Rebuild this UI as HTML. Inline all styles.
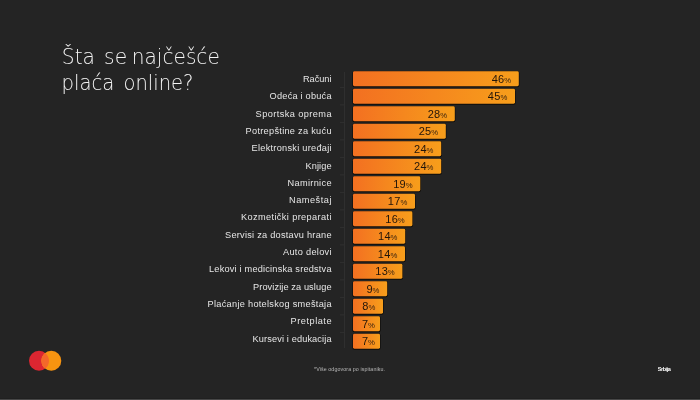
<!DOCTYPE html>
<html lang="sr"><head><meta charset="utf-8"><title>Šta se najčešće plaća online?</title>
<style>
html,body{margin:0;padding:0;background:#242424}
body{width:700px;height:400px;position:relative;overflow:hidden}
svg{position:absolute;left:0;top:0;display:block}
text{font-family:"Liberation Sans",sans-serif}
.title{font-family:"DejaVu Sans Light","DejaVu Sans","Liberation Sans",sans-serif;font-weight:200;font-size:20.6px;fill:#f4f4f4}
.lbl{font-size:9.2px;fill:#e6e6e6}
.num{font-size:11px;fill:#22150a;text-anchor:end;letter-spacing:.35px}
.pc{font-size:7.1px;fill:#3a2410}
.ax{fill:#313131}
.sh{fill:#0a0806;opacity:.85}
.foot{font-size:5.3px;fill:#b8b8b8}
.country{font-size:5.6px;fill:#ffffff;font-weight:bold}
</style></head><body>
<svg width="700" height="400" viewBox="0 0 700 400">
<defs><linearGradient id="g" x1="0" y1="0" x2="1" y2="0"><stop offset="0" stop-color="#f37021"/><stop offset="1" stop-color="#f79e1b"/></linearGradient></defs>
<rect width="700" height="400" fill="#242424"/>
<text class="title"><tspan x="61.80" y="63.7" textLength="33.20" lengthAdjust="spacingAndGlyphs">Šta</tspan> <tspan x="104.10" y="63.7" textLength="23.00" lengthAdjust="spacingAndGlyphs">se</tspan> <tspan x="131.80" y="63.7" textLength="88.00" lengthAdjust="spacingAndGlyphs">najčešće</tspan></text>
<text class="title"><tspan x="61.40" y="90.2" textLength="53.00" lengthAdjust="spacingAndGlyphs">plaća</tspan> <tspan x="123.50" y="90.2" textLength="70.00" lengthAdjust="spacingAndGlyphs">online?</tspan></text>

<rect class="ax" x="344" y="72" width="0.9" height="276"/>
<text class="lbl" x="303.0" y="82.00" textLength="28.5" lengthAdjust="spacing">Računi</text>
<rect class="sh" x="352.4" y="70.95" width="167.0" height="16.3" rx="2"/>
<rect x="353.0" y="71.25" width="165.8" height="15.0" rx="1.4" fill="url(#g)"/>
<text class="num" x="504.6" y="82.50">46</text>
<text class="pc" x="504.2" y="82.90" textLength="6.9" lengthAdjust="spacingAndGlyphs">%</text>
<rect class="ax" x="340" y="86.95" width="4.5" height="0.9"/>
<text class="lbl" x="269.6" y="99.30" textLength="61.9" lengthAdjust="spacing">Odeća i obuća</text>
<rect class="sh" x="352.4" y="88.45" width="163.2" height="16.3" rx="2"/>
<rect x="353.0" y="88.75" width="162.0" height="15.0" rx="1.4" fill="url(#g)"/>
<text class="num" x="500.8" y="100.00">45</text>
<text class="pc" x="500.4" y="100.40" textLength="6.9" lengthAdjust="spacingAndGlyphs">%</text>
<rect class="ax" x="340" y="104.45" width="4.5" height="0.9"/>
<text class="lbl" x="255.6" y="116.60" textLength="75.9" lengthAdjust="spacing">Sportska oprema</text>
<rect class="sh" x="352.4" y="105.95" width="103.0" height="16.3" rx="2"/>
<rect x="353.0" y="106.25" width="101.8" height="15.0" rx="1.4" fill="url(#g)"/>
<text class="num" x="440.6" y="117.50">28</text>
<text class="pc" x="440.2" y="117.90" textLength="6.9" lengthAdjust="spacingAndGlyphs">%</text>
<rect class="ax" x="340" y="121.95" width="4.5" height="0.9"/>
<text class="lbl" x="245.6" y="133.90" textLength="85.9" lengthAdjust="spacing">Potrepštine za kuću</text>
<rect class="sh" x="352.4" y="123.45" width="94.0" height="16.3" rx="2"/>
<rect x="353.0" y="123.75" width="92.8" height="15.0" rx="1.4" fill="url(#g)"/>
<text class="num" x="431.6" y="135.00">25</text>
<text class="pc" x="431.2" y="135.40" textLength="6.9" lengthAdjust="spacingAndGlyphs">%</text>
<rect class="ax" x="340" y="139.45" width="4.5" height="0.9"/>
<text class="lbl" x="251.6" y="151.20" textLength="79.9" lengthAdjust="spacing">Elektronski uređaji</text>
<rect class="sh" x="352.4" y="140.95" width="89.4" height="16.3" rx="2"/>
<rect x="353.0" y="141.25" width="88.2" height="15.0" rx="1.4" fill="url(#g)"/>
<text class="num" x="427.0" y="152.50">24</text>
<text class="pc" x="426.6" y="152.90" textLength="6.9" lengthAdjust="spacingAndGlyphs">%</text>
<rect class="ax" x="340" y="156.95" width="4.5" height="0.9"/>
<text class="lbl" x="305.6" y="168.50" textLength="25.9" lengthAdjust="spacing">Knjige</text>
<rect class="sh" x="352.4" y="158.45" width="89.4" height="16.3" rx="2"/>
<rect x="353.0" y="158.75" width="88.2" height="15.0" rx="1.4" fill="url(#g)"/>
<text class="num" x="427.0" y="170.00">24</text>
<text class="pc" x="426.6" y="170.40" textLength="6.9" lengthAdjust="spacingAndGlyphs">%</text>
<rect class="ax" x="340" y="174.45" width="4.5" height="0.9"/>
<text class="lbl" x="287.6" y="185.80" textLength="43.9" lengthAdjust="spacing">Namirnice</text>
<rect class="sh" x="352.4" y="175.95" width="68.5" height="16.3" rx="2"/>
<rect x="353.0" y="176.25" width="67.3" height="15.0" rx="1.4" fill="url(#g)"/>
<text class="num" x="406.1" y="187.50">19</text>
<text class="pc" x="405.7" y="187.90" textLength="6.9" lengthAdjust="spacingAndGlyphs">%</text>
<rect class="ax" x="340" y="191.95" width="4.5" height="0.9"/>
<text class="lbl" x="289.0" y="203.10" textLength="42.5" lengthAdjust="spacing">Nameštaj</text>
<rect class="sh" x="352.4" y="193.45" width="63.2" height="16.3" rx="2"/>
<rect x="353.0" y="193.75" width="62.0" height="15.0" rx="1.4" fill="url(#g)"/>
<text class="num" x="400.8" y="205.00">17</text>
<text class="pc" x="400.4" y="205.40" textLength="6.9" lengthAdjust="spacingAndGlyphs">%</text>
<rect class="ax" x="340" y="209.45" width="4.5" height="0.9"/>
<text class="lbl" x="241.0" y="220.40" textLength="90.5" lengthAdjust="spacing">Kozmetički preparati</text>
<rect class="sh" x="352.4" y="210.95" width="60.6" height="16.3" rx="2"/>
<rect x="353.0" y="211.25" width="59.4" height="15.0" rx="1.4" fill="url(#g)"/>
<text class="num" x="398.2" y="222.50">16</text>
<text class="pc" x="397.8" y="222.90" textLength="6.9" lengthAdjust="spacingAndGlyphs">%</text>
<rect class="ax" x="340" y="226.95" width="4.5" height="0.9"/>
<text class="lbl" x="225.0" y="237.70" textLength="106.5" lengthAdjust="spacing">Servisi za dostavu hrane</text>
<rect class="sh" x="352.4" y="228.45" width="53.4" height="16.3" rx="2"/>
<rect x="353.0" y="228.75" width="52.2" height="15.0" rx="1.4" fill="url(#g)"/>
<text class="num" x="391.0" y="240.00">14</text>
<text class="pc" x="390.6" y="240.40" textLength="6.9" lengthAdjust="spacingAndGlyphs">%</text>
<rect class="ax" x="340" y="244.45" width="4.5" height="0.9"/>
<text class="lbl" x="283.0" y="255.00" textLength="48.5" lengthAdjust="spacing">Auto delovi</text>
<rect class="sh" x="352.4" y="245.95" width="53.2" height="16.3" rx="2"/>
<rect x="353.0" y="246.25" width="52.0" height="15.0" rx="1.4" fill="url(#g)"/>
<text class="num" x="390.8" y="257.50">14</text>
<text class="pc" x="390.4" y="257.90" textLength="6.9" lengthAdjust="spacingAndGlyphs">%</text>
<rect class="ax" x="340" y="261.95" width="4.5" height="0.9"/>
<text class="lbl" x="209.0" y="272.30" textLength="122.5" lengthAdjust="spacing">Lekovi i medicinska sredstva</text>
<rect class="sh" x="352.4" y="263.45" width="50.6" height="16.3" rx="2"/>
<rect x="353.0" y="263.75" width="49.4" height="15.0" rx="1.4" fill="url(#g)"/>
<text class="num" x="388.2" y="275.00">13</text>
<text class="pc" x="387.8" y="275.40" textLength="6.9" lengthAdjust="spacingAndGlyphs">%</text>
<rect class="ax" x="340" y="279.45" width="4.5" height="0.9"/>
<text class="lbl" x="253.0" y="289.60" textLength="78.5" lengthAdjust="spacing">Provizije za usluge</text>
<rect class="sh" x="352.4" y="280.95" width="35.4" height="16.3" rx="2"/>
<rect x="353.0" y="281.25" width="34.2" height="15.0" rx="1.4" fill="url(#g)"/>
<text class="num" x="373.0" y="292.50">9</text>
<text class="pc" x="372.6" y="292.90" textLength="6.9" lengthAdjust="spacingAndGlyphs">%</text>
<rect class="ax" x="340" y="296.95" width="4.5" height="0.9"/>
<text class="lbl" x="207.6" y="306.90" textLength="123.9" lengthAdjust="spacing">Plaćanje hotelskog smeštaja</text>
<rect class="sh" x="352.4" y="298.45" width="31.2" height="16.3" rx="2"/>
<rect x="353.0" y="298.75" width="30.0" height="15.0" rx="1.4" fill="url(#g)"/>
<text class="num" x="368.8" y="310.00">8</text>
<text class="pc" x="368.4" y="310.40" textLength="6.9" lengthAdjust="spacingAndGlyphs">%</text>
<rect class="ax" x="340" y="314.45" width="4.5" height="0.9"/>
<text class="lbl" x="290.6" y="324.20" textLength="40.9" lengthAdjust="spacing">Pretplate</text>
<rect class="sh" x="352.4" y="315.95" width="28.2" height="16.3" rx="2"/>
<rect x="353.0" y="316.25" width="27.0" height="15.0" rx="1.4" fill="url(#g)"/>
<text class="num" x="368.5" y="327.50">7</text>
<text class="pc" x="368.1" y="327.90" textLength="6.9" lengthAdjust="spacingAndGlyphs">%</text>
<rect class="ax" x="340" y="331.95" width="4.5" height="0.9"/>
<text class="lbl" x="252.6" y="341.50" textLength="78.9" lengthAdjust="spacing">Kursevi i edukacija</text>
<rect class="sh" x="352.4" y="333.45" width="28.2" height="16.3" rx="2"/>
<rect x="353.0" y="333.75" width="27.0" height="15.0" rx="1.4" fill="url(#g)"/>
<text class="num" x="368.5" y="345.00">7</text>
<text class="pc" x="368.1" y="345.40" textLength="6.9" lengthAdjust="spacingAndGlyphs">%</text>
<g><circle cx="39" cy="360.8" r="10" fill="#dc2631"/><circle cx="51.3" cy="360.8" r="10" fill="#f79410"/><path d="M45.15 352.91a10 10 0 0 1 0 15.78a10 10 0 0 1 0-15.78z" fill="#f4682a"/></g>
<text class="foot" x="314" y="370.7" textLength="71" lengthAdjust="spacing">*Više odgovora po ispitaniku.</text>
<text class="country" x="657.7" y="371.1" textLength="13.2" lengthAdjust="spacing">Srbija</text>
<rect x="0" y="398" width="700" height="1" fill="#202020"/><rect x="0" y="399" width="700" height="1" fill="#474747"/>
</svg>
</body></html>
